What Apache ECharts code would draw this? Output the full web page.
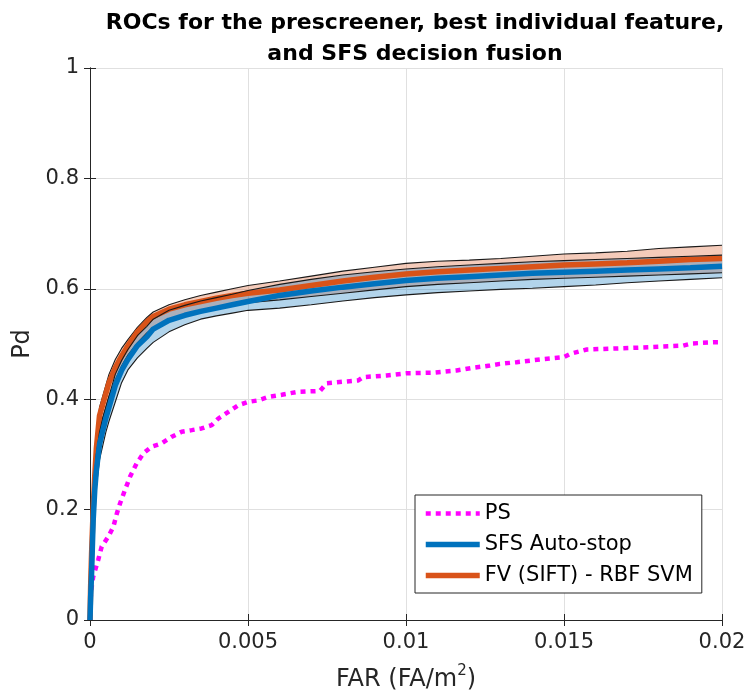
<!DOCTYPE html>
<html>
<head>
<meta charset="utf-8">
<script src="https://cdn.jsdelivr.net/npm/echarts@6/dist/echarts.min.js"></script>
<style>
  html, body { margin: 0; padding: 0; background: #fff; }
  #chart { width: 751px; height: 700px; }
</style>
</head>
<body>
<div id="chart"></div>
<script>
// False-alarm-rate grid shared by the two fused-classifier ROCs
const far = [0, 0.00002, 0.00005, 0.0001, 0.00015, 0.0002, 0.0003, 0.0004, 0.0005, 0.0006,
  0.0008, 0.001, 0.0012, 0.0015, 0.0018, 0.002, 0.0025, 0.003, 0.0035, 0.004,
  0.0045, 0.005, 0.006, 0.007, 0.008, 0.009, 0.01, 0.011, 0.012, 0.013,
  0.014, 0.015, 0.016, 0.017, 0.018, 0.019, 0.02];

// SFS Auto-stop: mean Pd with lower / upper confidence bounds
const sfsPd = [0, 0.04, 0.085, 0.18, 0.235, 0.27, 0.318, 0.342, 0.365, 0.385,
  0.425, 0.452, 0.472, 0.497, 0.513, 0.527, 0.543, 0.552, 0.559, 0.565,
  0.571, 0.577, 0.588, 0.596, 0.603, 0.609, 0.615, 0.619, 0.622, 0.625,
  0.628, 0.630, 0.632, 0.634, 0.636, 0.638, 0.641];
const sfsLo = [0, 0.03, 0.07, 0.15, 0.2, 0.24, 0.29, 0.315, 0.34, 0.36,
  0.395, 0.43, 0.453, 0.475, 0.492, 0.503, 0.522, 0.535, 0.545, 0.551,
  0.556, 0.561, 0.565, 0.571, 0.578, 0.584, 0.589, 0.593, 0.596, 0.599,
  0.601, 0.604, 0.607, 0.611, 0.614, 0.617, 0.620];
const sfsHi = [0, 0.06, 0.11, 0.21, 0.265, 0.3, 0.34, 0.365, 0.385, 0.405,
  0.445, 0.47, 0.49, 0.515, 0.532, 0.545, 0.561, 0.57, 0.578, 0.584,
  0.59, 0.597, 0.608, 0.617, 0.625, 0.631, 0.636, 0.64, 0.643, 0.646,
  0.649, 0.651, 0.653, 0.655, 0.657, 0.659, 0.661];

// FV (SIFT) - RBF SVM: mean Pd with lower / upper confidence bounds
const fvPd = [0, 0.06, 0.12, 0.2, 0.26, 0.31, 0.37, 0.39, 0.41, 0.43,
  0.457, 0.478, 0.497, 0.522, 0.54, 0.55, 0.563, 0.571, 0.577, 0.583,
  0.588, 0.592, 0.598, 0.606, 0.614, 0.621, 0.627, 0.631, 0.634, 0.637,
  0.64, 0.643, 0.645, 0.647, 0.65, 0.653, 0.655];
const fvLo = [0, 0.04, 0.09, 0.17, 0.23, 0.28, 0.34, 0.365, 0.385, 0.405,
  0.435, 0.46, 0.48, 0.502, 0.52, 0.53, 0.545, 0.554, 0.56, 0.566,
  0.571, 0.575, 0.58, 0.586, 0.592, 0.598, 0.604, 0.608, 0.611, 0.614,
  0.617, 0.619, 0.621, 0.623, 0.625, 0.627, 0.629];
const fvHi = [0, 0.08, 0.15, 0.24, 0.29, 0.33, 0.385, 0.405, 0.425, 0.445,
  0.472, 0.492, 0.508, 0.53, 0.548, 0.558, 0.571, 0.58, 0.588, 0.594,
  0.6, 0.606, 0.614, 0.623, 0.632, 0.639, 0.646, 0.65, 0.652, 0.655,
  0.659, 0.663, 0.665, 0.668, 0.673, 0.676, 0.679];

// Prescreener ROC
const psFar = [0, 0.00003, 0.0001, 0.00026, 0.00037, 0.00058, 0.00074, 0.00085, 0.00095, 0.00111,
  0.00127, 0.00148, 0.00169, 0.00195, 0.00227, 0.00259, 0.0029, 0.00322, 0.00353, 0.00385,
  0.00406, 0.00438, 0.00469, 0.005, 0.00533, 0.00564, 0.00607, 0.00654, 0.00728, 0.00749,
  0.00849, 0.00865, 0.00939, 0.01002, 0.01086, 0.0116, 0.01213, 0.01266, 0.01297, 0.0135,
  0.01424, 0.01498, 0.01519, 0.01572, 0.01719, 0.01877, 0.01904, 0.01972, 0.02];
const psPd = [0, 0.05, 0.078, 0.109, 0.133, 0.151, 0.169, 0.193, 0.211, 0.236,
  0.26, 0.284, 0.302, 0.314, 0.32, 0.332, 0.341, 0.344, 0.347, 0.353,
  0.365, 0.377, 0.389, 0.395, 0.398, 0.404, 0.408, 0.413, 0.415, 0.429,
  0.434, 0.44, 0.443, 0.447, 0.448, 0.452, 0.457, 0.461, 0.464, 0.467,
  0.472, 0.476, 0.482, 0.49, 0.493, 0.497, 0.501, 0.503, 0.503];

const xTicks = { min: 0, max: 0.02, interval: 0.005 };
const yTicks = { min: 0, max: 1, interval: 0.2 };

const FONT = '"DejaVu Sans", "Liberation Sans", Arial, sans-serif';
const AXIS = '#262626';
const BLUE = '#0072BD';
const ORANGE = '#D95319';
const MAGENTA = '#FF00FF';

const pairs = (xs, ys) => xs.map((x, i) => [x, ys[i]]);

// Shaded confidence band between lo and hi, drawn as one polygon
function band(name, lo, hi, fill) {
  return {
    type: 'custom', name, silent: true, clip: true,
    data: far.map((f, i) => [f, lo[i], hi[i]]),
    encode: { x: 0, y: [1, 2] },
    renderItem(params, api) {
      if (params.dataIndex !== 0) return null;
      const pts = [];
      for (let i = 0; i < far.length; i++) pts.push(api.coord([far[i], hi[i]]));
      for (let i = far.length - 1; i >= 0; i--) pts.push(api.coord([far[i], lo[i]]));
      return { type: 'polygon', shape: { points: pts }, style: { fill: fill, stroke: null } };
    }
  };
}

function edge(name, ys) {
  return {
    type: 'line', name, silent: true, symbol: 'none', showSymbol: false,
    data: pairs(far, ys),
    lineStyle: { color: '#1a1a1a', width: 1.1 }
  };
}

function curve(name, xs, ys, color, width, dash) {
  return {
    type: 'line', name, symbol: 'none', showSymbol: false,
    data: pairs(xs, ys),
    itemStyle: { color },
    lineStyle: { color, width, type: dash || 'solid', cap: 'butt' }
  };
}

const chart = echarts.init(document.getElementById('chart'), null, { renderer: 'canvas' });

const boxAxis = {
  axisLine: { show: true, lineStyle: { color: AXIS, width: 1 } },
  axisTick: { show: true, inside: true, length: 6, lineStyle: { color: AXIS } },
  axisLabel: { show: false },
  splitLine: { show: false }
};

chart.setOption({
  animation: false,
  backgroundColor: '#fff',
  title: {
    text: 'ROCs for the prescreener, best individual feature,\nand SFS decision fusion',
    left: 410, top: 3, textAlign: 'center',
    textStyle: { fontFamily: FONT, fontSize: 22, fontWeight: 'bold', color: '#000', lineHeight: 31 }
  },
  grid: { left: 90, right: 29, top: 68, bottom: 80, containLabel: false },
  legend: {
    data: ['PS', 'SFS Auto-stop', 'FV (SIFT) - RBF SVM'],
    orient: 'vertical', left: 415, top: 495,
    padding: [8, 9, 7, 8], itemGap: 10, itemWidth: 54, itemHeight: 20,
    borderColor: AXIS, borderWidth: 1, borderRadius: 0, backgroundColor: '#fff',
    itemStyle: { opacity: 0 },
    lineStyle: { width: 'inherit' },
    textStyle: { fontFamily: FONT, fontSize: 21, color: '#000' }
  },
  xAxis: [
    {
      type: 'value', ...xTicks,
      name: '{a|FAR (FA/m}{s|2}{a|)}', nameLocation: 'middle', nameGap: 44,
      nameTextStyle: {
        rich: {
          a: { fontFamily: FONT, fontSize: 24, color: AXIS, lineHeight: 32 },
          s: { fontFamily: FONT, fontSize: 15, color: AXIS, verticalAlign: 'top', lineHeight: 15 }
        }
      },
      axisLine: { show: true, onZero: false, lineStyle: { color: AXIS, width: 1 } },
      axisTick: { show: true, inside: true, length: 6, lineStyle: { color: AXIS } },
      axisLabel: { fontFamily: FONT, fontSize: 21, color: AXIS, margin: 12 },
      splitLine: { show: true, lineStyle: { color: '#e0e0e0', width: 1 } }
    },
    { type: 'value', position: 'top', ...xTicks, ...boxAxis }
  ],
  yAxis: [
    {
      type: 'value', ...yTicks,
      name: 'Pd', nameLocation: 'middle', nameGap: 44, nameRotate: 90,
      nameTextStyle: { fontFamily: FONT, fontSize: 24, color: AXIS },
      axisLine: { show: true, onZero: false, lineStyle: { color: AXIS, width: 1 } },
      axisTick: { show: true, inside: true, length: 6, lineStyle: { color: AXIS } },
      axisLabel: { fontFamily: FONT, fontSize: 21, color: AXIS, margin: 11 },
      splitLine: { show: true, lineStyle: { color: '#e0e0e0', width: 1 } }
    },
    { type: 'value', position: 'right', ...yTicks, ...boxAxis }
  ],
  series: [
    curve('PS', psFar, psPd, MAGENTA, 4.5, [5, 5]),
    band('FV band', fvLo, fvHi, 'rgba(217,83,25,0.3)'),
    edge('FV upper', fvHi),
    edge('FV lower', fvLo),
    curve('FV (SIFT) - RBF SVM', far, fvPd, ORANGE, 5.5),
    band('SFS band', sfsLo, sfsHi, 'rgba(0,114,189,0.3)'),
    edge('SFS upper', sfsHi),
    edge('SFS lower', sfsLo),
    curve('SFS Auto-stop', far, sfsPd, BLUE, 5.5)
  ]
});
</script>
</body>
</html>
